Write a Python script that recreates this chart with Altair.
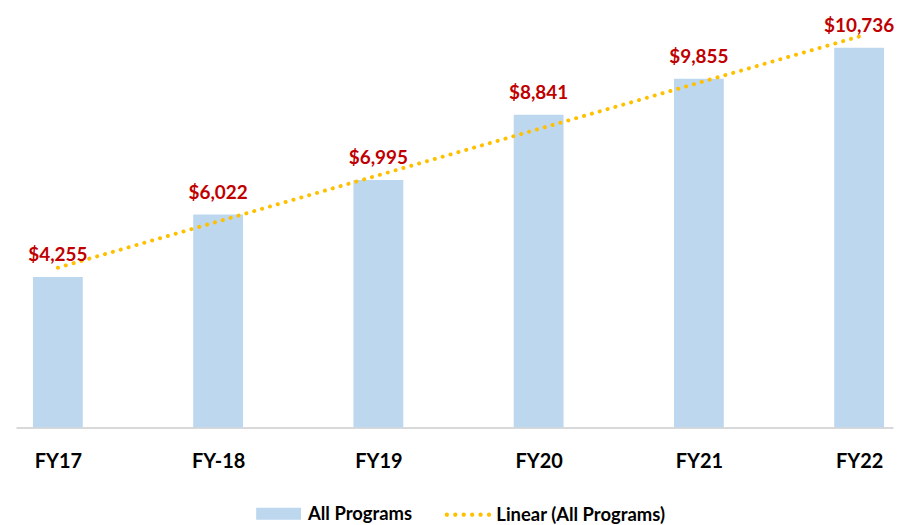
import json
import altair as alt
import pandas as pd

# ---- data ----
years = ["FY17", "FY-18", "FY19", "FY20", "FY21", "FY22"]
values = [4255, 6022, 6995, 8841, 9855, 10736]
labels = ["$4,255", "$6,022", "$6,995", "$8,841", "$9,855", "$10,736"]
bar_series = "All Programs"
trend_series = "Linear (All Programs)"

df = pd.DataFrame({
    "year": years,
    "value": values,
    "label": labels,
    "idx": list(range(len(years))),
    "series": [bar_series] * len(years),
})

FONT = "Lato"
BAR = "#BDD7EE"
GOLD = "#FFC000"
RED = "#C00000"

xscale = alt.Scale(type="point", domain=years, padding=0.2363, align=0.553)
yscale = alt.Scale(domain=[0, 11834], nice=False, zero=True)

x = alt.X("year:N", scale=xscale, sort=years,
          axis=alt.Axis(title=None, labelAngle=0, ticks=False, domain=True,
                        domainColor="#D9D9D9", domainWidth=2,
                        labelFont=FONT, labelFontSize=20, labelFontWeight="bold",
                        labelColor="#000000", labelPadding=24, grid=False))
y = alt.Y("value:Q", scale=yscale, axis=None)

base = alt.Chart(df)

bar_rect = "M-1,-0.267H1V0.267H-1Z"
bars = base.mark_bar(size=50, color=BAR).encode(
    x=x, y=y,
    fill=alt.Fill("series:N", scale=alt.Scale(domain=[bar_series], range=[BAR]),
                  legend=alt.Legend(title=None, orient="none", legendX=241, legendY=484,
                                    symbolType=bar_rect, symbolSize=2025,
                                    symbolStrokeWidth=0, symbolOpacity=1,
                                    labelFont=FONT, labelFontSize=18.5,
                                    labelFontWeight="bold", labelColor="#000000",
                                    labelOffset=7)),
)

text = base.mark_text(font=FONT, fontSize=19, fontWeight="bold", color=RED,
                      baseline="bottom", dy=-12).encode(
    x=x, y=y, text="label:N")

map_expr = json.dumps(years) + "[datum.idx]"
trend = base.transform_regression("idx", "value").transform_calculate(
    year=map_expr
).mark_line(strokeWidth=4, strokeDash=[0.1, 8.1], strokeCap="round", color=GOLD).encode(
    x=x, y=y,
)

# legend entry for the trend line: six filled dots
r = 0.09
dots = []
for k in range(6):
    cx = -0.9 + k * 0.36
    dots.append(f"M{cx - r:.3f},0A{r},{r} 0 1,0 {cx + r:.3f},0A{r},{r} 0 1,0 {cx - r:.3f},0Z")
dot_path = "".join(dots)

trend_key = base.transform_filter("false").transform_calculate(
    series2=f"'{trend_series}'"
).mark_point(filled=True, opacity=1, size=0).encode(
    x=x, y=y,
    color=alt.Color("series2:N", scale=alt.Scale(domain=[trend_series], range=[GOLD]),
                    legend=alt.Legend(title=None, orient="none", legendX=430, legendY=484,
                                      symbolType=dot_path, symbolSize=2209,
                                      symbolStrokeWidth=0, symbolOpacity=1,
                                      labelFont=FONT, labelFontSize=18.5,
                                      labelFontWeight="bold", labelColor="#000000",
                                      labelOffset=5, labelLimit=400)),
)

chart = alt.layer(bars, trend, text, trend_key).properties(
    width=880, height=420,
    padding={"left": 8, "top": 0, "right": 0, "bottom": 0},
).resolve_legend(fill="independent", color="independent").configure_view(stroke=None)

chart.save("out.html", embed_options={"renderer": "svg", "actions": False})
